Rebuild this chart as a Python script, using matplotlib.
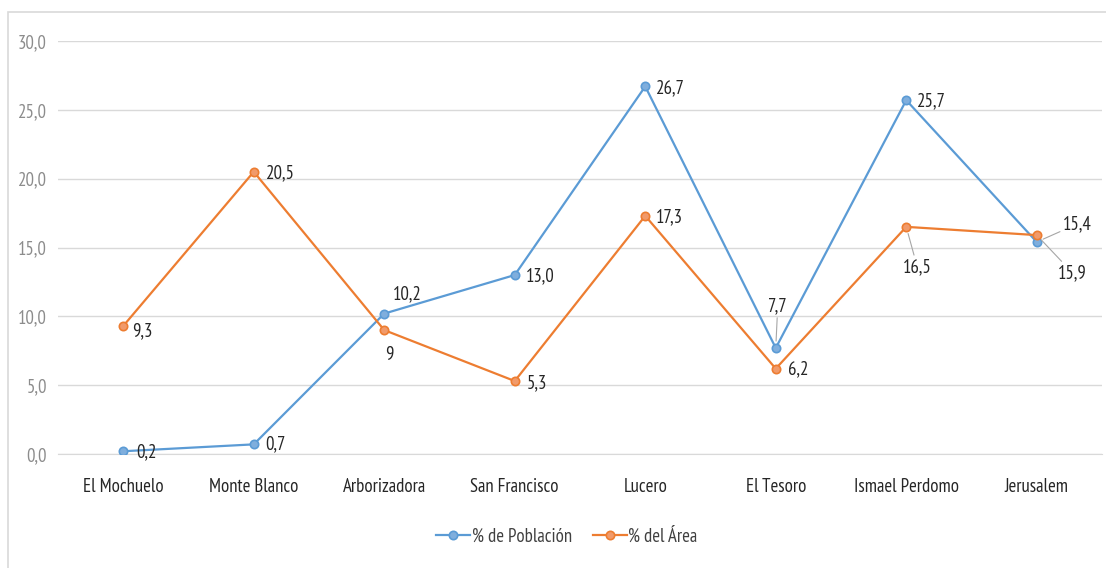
import matplotlib.pyplot as plt
from matplotlib.patches import Rectangle

plt.rcParams['font.family'] = ['PT Sans Narrow', 'DejaVu Sans']

# Data
barrios = ['El Mochuelo', 'Monte Blanco', 'Arborizadora', 'San Francisco',
           'Lucero', 'El Tesoro', 'Ismael Perdomo', 'Jerusalem']
poblacion = [0.2, 0.7, 10.2, 13.0, 26.7, 7.7, 25.7, 15.4]
area = [9.3, 20.5, 9.0, 5.3, 17.3, 6.2, 16.5, 15.9]
etiquetas_pob = ['0,2', '0,7', '10,2', '13,0', '26,7', '7,7', '25,7', '15,4']
etiquetas_area = ['9,3', '20,5', '9', '5,3', '17,3', '6,2', '16,5', '15,9']
y_ticks = [0, 5, 10, 15, 20, 25, 30]

azul = '#5B9BD5'
naranja = '#ED7D31'

fig = plt.figure(figsize=(11.06, 5.68), dpi=100)
ax = fig.add_axes([58 / 1106, 1 - 454 / 568, 1044 / 1106, 413 / 568])

x = list(range(len(barrios)))
ax.plot(x, poblacion, color=azul, lw=1.6, marker='o', ms=6,
        mfc='#7FAEDD', mec=azul, mew=1.2, label='% de Población', zorder=3)
ax.plot(x, area, color=naranja, lw=1.6, marker='o', ms=6,
        mfc='#F19A6A', mec=naranja, mew=1.2, label='% del Área', zorder=4)

ax.set_xlim(-0.5, len(barrios) - 0.5)
ax.set_ylim(0, 30)
ax.set_yticks(y_ticks)
ax.set_yticklabels([f'{v:.1f}'.replace('.', ',') for v in y_ticks])
ax.set_xticks(x)
ax.set_xticklabels(barrios)
ax.tick_params(axis='y', length=0, pad=8, labelsize=13.5, labelcolor='#8C8C8C')
ax.tick_params(axis='x', length=0, pad=17, labelsize=13.5, labelcolor='#262626')
ax.grid(axis='y', color='#D9D9D9', lw=1)
ax.set_axisbelow(True)
for s in ['top', 'right', 'left']:
    ax.spines[s].set_visible(False)
ax.spines['bottom'].set_color('#D9D9D9')

# Label offsets in pixels (dx, dy, ha, leader)
off_pob = [(13, -1, 'left', False), (12, 0, 'left', False), (9, 19, 'left', False),
           (11, -1, 'left', False), (11, -2, 'left', False), (2, 42, 'center', True),
           (11, -1, 'left', False), (26, 18, 'left', True)]
off_area = [(9, -5, 'left', False), (12, -1, 'left', False), (5, -25, 'center', False),
            (12, -2, 'left', False), (11, -1, 'left', False), (12, -1, 'left', False),
            (11, -40, 'center', True), (36, -38, 'center', True)]

for serie, etiquetas, offs in [(poblacion, etiquetas_pob, off_pob),
                               (area, etiquetas_area, off_area)]:
    for i, (v, t, (dx, dy, ha, leader)) in enumerate(zip(serie, etiquetas, offs)):
        props = None
        if leader:
            props = dict(arrowstyle='-', color='#A6A6A6', lw=0.8,
                         shrinkA=0, shrinkB=5)
        ax.annotate(t, (i, v), xytext=(dx, dy), textcoords='offset pixels',
                    ha=ha, va='center', fontsize=13.5, color='#262626',
                    arrowprops=props, zorder=5)

leg = fig.legend(loc='center', bbox_to_anchor=(567 / 1106, 1 - 537 / 568),
                 ncol=2, frameon=False, fontsize=13.5, handlelength=1.8,
                 columnspacing=1.1, handletextpad=0.1)
for t in leg.get_texts():
    t.set_color('#404040')

fig.patches.append(Rectangle((8 / 1106, -0.1), 1.2, 1 - 12 / 568 + 0.1,
                             transform=fig.transFigure, fill=False,
                             edgecolor='#D9D9D9', lw=1.2))

fig.savefig('out.png', dpi=100)
